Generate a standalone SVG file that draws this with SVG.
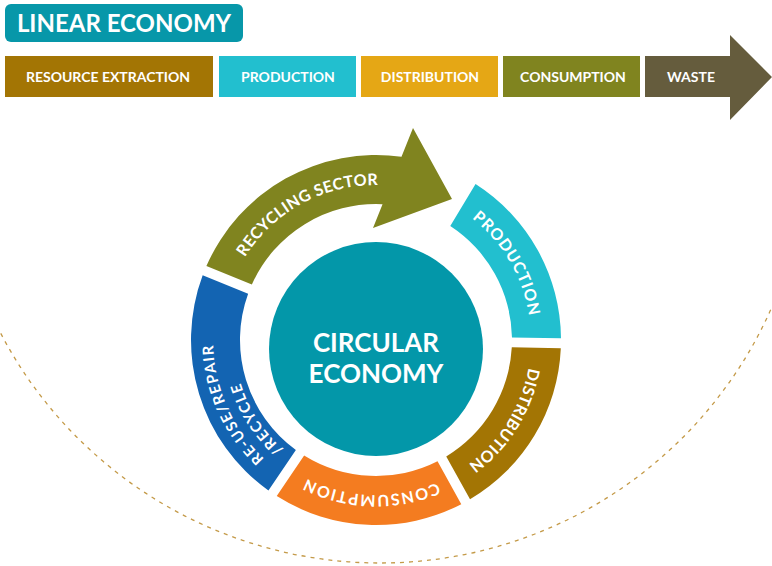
<svg xmlns="http://www.w3.org/2000/svg" width="772" height="566" viewBox="0 0 772 566">
<style>
  .lbl { font-family: Lato, "Open Sans", "Liberation Sans", sans-serif; font-weight: 700; fill: #ffffff; }
  .bar { font-size: 14px; text-anchor: middle; }
  .ring { font-size: 16px; }
  .ring2 { font-size: 15px; }
  .dash { fill: none; stroke: #C49A48; stroke-width: 1.3; stroke-dasharray: 4 5; }
</style>
<defs>
  <path id="tp-prod" d="M472.05,218.35 A155,155 0 0 1 529.09,315.75"/>
  <path id="tp-dist" d="M528.50,367.71 A155,155 0 0 1 468.41,464.44"/>
  <path id="tp-cons" d="M437.06,482.47 A155,155 0 0 1 306.84,478.71"/>
  <path id="tp-recy" d="M244.98,257.18 A155,155 0 0 1 377.62,185.01"/>
  <path id="tp-reuse1" d="M264.22,458.63 A163,163 0 0 1 213.10,345.43"/>
  <path id="tp-reuse2" d="M283.40,449.17 A142,142 0 0 1 240.35,381.99"/>
</defs>
<rect width="772" height="566" fill="#ffffff"/>

<g id="connectors">
  <circle class="dash" cx="380" cy="135" r="428"/>
</g>

<g id="linear-economy-title">
  <rect x="5" y="4" width="238" height="38" rx="6" fill="#0797A9"/>
  <text class="lbl" x="124" y="32" font-size="24" font-weight="600" text-anchor="middle">LINEAR ECONOMY</text>
</g>

<g id="bar-resource-extraction">
  <rect x="5" y="56" width="208" height="41" fill="#A37504"/>
  <text class="lbl bar" x="108" y="82">RESOURCE EXTRACTION</text>
</g>
<g id="bar-production">
  <rect x="219" y="56" width="137" height="41" fill="#22BFCF"/>
  <text class="lbl bar" x="288" y="82">PRODUCTION</text>
</g>
<g id="bar-distribution">
  <rect x="361" y="56" width="137" height="41" fill="#E5A715"/>
  <text class="lbl bar" x="430" y="82">DISTRIBUTION</text>
</g>
<g id="bar-consumption">
  <rect x="503" y="56" width="137" height="41" fill="#80841F"/>
  <text class="lbl bar" x="573" y="82">CONSUMPTION</text>
</g>
<g id="bar-waste">
  <path d="M645,56 H730 V35 L772,77 L730,120 V97 H645 Z" fill="#655C3D"/>
  <text class="lbl bar" x="691" y="82">WASTE</text>
</g>

<g id="ring-production">
  <path d="M475.55,184.06 A185,185 0 0 1 560.99,338.22 L511.98,337.39 A136,136 0 0 0 450.27,226.07 Z" fill="#22BFCF"/>
  <text class="lbl ring"><textPath href="#tp-prod" textLength="115.5" lengthAdjust="spacing">PRODUCTION</textPath></text>
</g>
<g id="ring-distribution">
  <path d="M560.82,348.23 A185,185 0 0 1 470.03,499.32 L446.25,456.45 A136,136 0 0 0 511.80,347.35 Z" fill="#A37504"/>
  <text class="lbl ring"><textPath href="#tp-dist" textLength="116.6" lengthAdjust="spacing">DISTRIBUTION</textPath></text>
</g>
<g id="ring-consumption">
  <path d="M461.28,504.17 A185,185 0 0 1 276.74,496.11 L304.13,455.46 A136,136 0 0 0 437.53,461.28 Z" fill="#F47C20"/>
  <text class="lbl ring"><textPath href="#tp-cons" textLength="134.5" lengthAdjust="spacing">CONSUMPTION</textPath></text>
</g>
<g id="ring-reuse-repair-recycle">
  <path d="M268.44,490.51 A185,185 0 0 1 202.66,275.37 L248.12,293.71 A136,136 0 0 0 295.87,449.89 Z" fill="#1364B2"/>
  <text class="lbl ring2"><textPath href="#tp-reuse1" textLength="127.4" lengthAdjust="spacing">RE-USE/REPAIR</textPath></text>
  <text class="lbl ring2"><textPath href="#tp-reuse2" textLength="79.6" lengthAdjust="spacing">/RECYCLE</textPath></text>
</g>
<g id="ring-recycling-sector">
  <path d="M206.41,266.08 A185,185 0 0 1 401.49,156.77 L413,128 L452,199 L373,228 L382.54,204.16 A136,136 0 0 0 251.86,284.47 Z" fill="#80841F"/>
  <text class="lbl ring"><textPath href="#tp-recy" textLength="157.7" lengthAdjust="spacing">RECYCLING SECTOR</textPath></text>
</g>

<g id="circular-economy">
  <circle cx="376" cy="349" r="107" fill="#0397A9"/>
  <text class="lbl" x="376" y="352" font-size="26" text-anchor="middle">CIRCULAR</text>
  <text class="lbl" x="376" y="383" font-size="26" text-anchor="middle">ECONOMY</text>
</g>
</svg>
